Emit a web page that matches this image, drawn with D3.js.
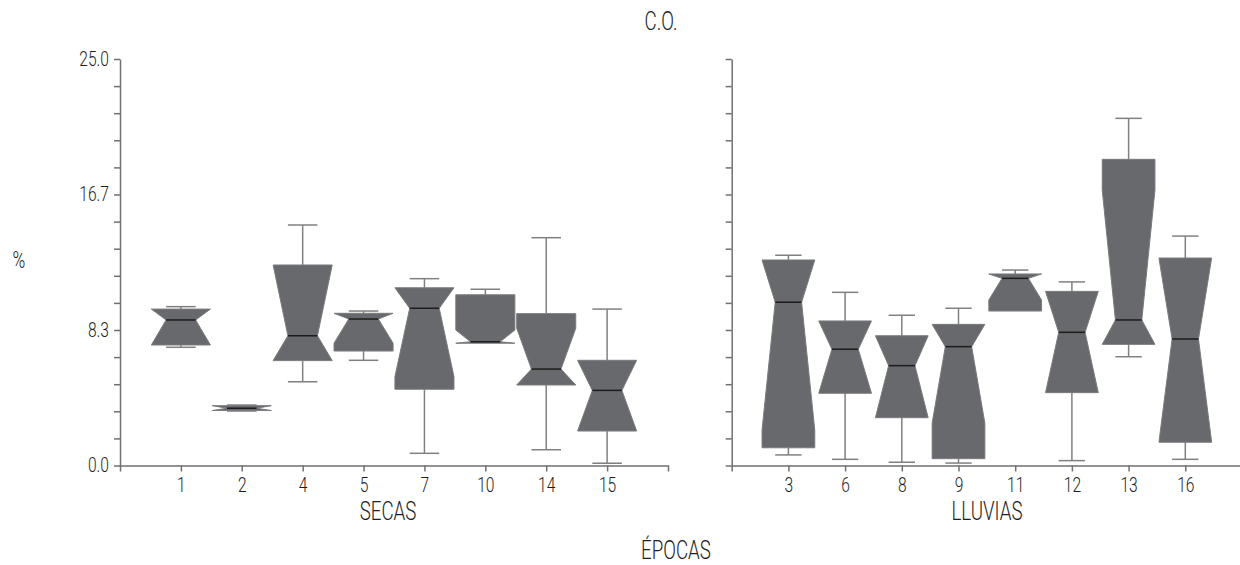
<!DOCTYPE html>
<html>
<head>
<meta charset="utf-8">
<script src="https://cdn.jsdelivr.net/npm/d3@7"></script>
<style>
  body { margin: 0; background: #fff; }
  svg text { font-family: Roboto, "Liberation Sans", sans-serif; font-weight: 300; fill: #1e1e1e; }
  .axis path, .axis line { stroke: #707070; stroke-width: 1.5; }
</style>
</head>
<body>
<svg id="chart" width="1240" height="565"></svg>
<script>
// SECAS
var secasCats    = ["1", "2", "4", "5", "7", "10", "14", "15"];
var secasWLo     = [7.27, 3.35, 5.15, 6.47, 0.75, 7.52, 0.97, 0.14];
var secasQ1      = [7.41, 3.38, 6.45, 7.04, 4.69, 7.52, 4.95, 2.12];
var secasNotchLo = [7.30, 3.20, 5.00, 7.52, 5.46, 6.90, 3.40, 1.50];
var secasMed     = [8.95, 3.52, 7.98, 9.01, 9.67, 7.61, 5.93, 4.62];
var secasNotchHi = [10.5, 3.80, 12.5, 10.5, 13.9, 8.33, 8.44, 7.70];
var secasQ3      = [9.62, 3.68, 12.33, 9.36, 10.93, 10.50, 9.34, 6.47];
var secasWHi     = [9.77, 3.72, 14.79, 9.50, 11.49, 10.84, 14.01, 9.62];

// LLUVIAS
var lluviasCats    = ["3", "6", "8", "9", "11", "12", "13", "16"];
var lluviasWLo     = [0.65, 0.38, 0.20, 0.15, 9.50, 0.30, 6.69, 0.38];
var lluviasQ1      = [1.09, 4.44, 2.94, 0.42, 9.50, 4.48, 7.45, 1.43];
var lluviasNotchLo = [2.18, 4.00, 2.50, 2.60, 10.18, 4.00, 0.96, 1.00];
var lluviasMed     = [10.04, 7.15, 6.14, 7.31, 11.51, 8.19, 8.95, 7.78];
var lluviasNotchHi = [17.9, 10.3, 9.80, 12.0, 12.84, 12.4, 16.94, 14.5];
var lluviasQ3      = [12.64, 8.89, 7.98, 8.68, 11.78, 10.71, 18.83, 12.76];
var lluviasWHi     = [12.93, 10.65, 9.24, 9.67, 12.02, 11.29, 21.35, 14.11];

var yMax = 25;
var yTicks = d3.range(16).map(function(i) { return i * yMax / 15; });

var svg = d3.select("#chart");
var y = d3.scaleLinear().domain([0, yMax]).range([465.5, 59]);

// narrow a text horizontally around its own anchor point (condensed typeface look)
function condense(sel, k) {
    sel.each(function() {
        var t = d3.select(this);
        var tx = +t.attr("x") || 0, ty = +t.attr("y") || 0;
        t.attr("x", 0).attr("y", 0)
         .attr("transform", "translate(" + tx + "," + ty + ") scale(" + k + ",1)");
    });
}

function rows(cats, wLo, q1, nLo, med, nHi, q3, wHi) {
    return cats.map(function(c, i) {
        return {cat: c, wLo: wLo[i], q1: q1[i], med: med[i], q3: q3[i], wHi: wHi[i],
                nLo: Math.max(q1[i], nLo[i]), nHi: Math.min(q3[i], nHi[i])};
    });
}

function label(x, yy, size, txt) {
    svg.append("text").attr("x", x).attr("y", yy)
        .attr("text-anchor", "middle").style("font-size", size + "px").text(txt)
        .call(condense, 0.72);
}

function panel(data, x0, x1, boxFrac, title, titleX, showLabels) {
    var x = d3.scalePoint().domain(data.map(function(d) { return d.cat; }))
        .range([x0, x1]).padding(1);
    var w = x.step() * boxFrac, hw = w / 2, qw = w / 4;

    var yAxis = d3.axisLeft(y).tickValues(yTicks).tickSize(6).tickSizeOuter(0)
        .tickPadding(5)
        .tickFormat(function(d, i) { return (showLabels && i % 5 == 0) ? d3.format(".1f")(d) : ""; });
    svg.append("g").attr("class", "axis")
        .attr("transform", "translate(" + x0 + ",0)")
        .call(yAxis)
        .call(function(g) { g.selectAll("text").style("font-size", "20px").call(condense, 0.78); });

    svg.append("g").attr("class", "axis")
        .attr("transform", "translate(0," + y(0) + ")")
        .call(d3.axisBottom(x).tickSize(6).tickSizeOuter(6).tickPadding(6))
        .call(function(g) { g.selectAll("text").style("font-size", "20px").call(condense, 0.78); });

    var g = svg.append("g");
    var box = g.selectAll(".box").data(data).enter().append("g").attr("class", "box")
        .attr("transform", function(d) { return "translate(" + x(d.cat) + ",0)"; });

    // whiskers
    box.append("line").attr("x1", 0).attr("x2", 0)
        .attr("y1", function(d) { return y(d.q3); }).attr("y2", function(d) { return y(d.wHi); })
        .attr("stroke", "#808080").attr("stroke-width", 1.5);
    box.append("line").attr("x1", 0).attr("x2", 0)
        .attr("y1", function(d) { return y(d.q1); }).attr("y2", function(d) { return y(d.wLo); })
        .attr("stroke", "#808080").attr("stroke-width", 1.5);
    box.filter(function(d) { return d.wHi > d.q3; }).append("line")
        .attr("x1", -qw).attr("x2", qw)
        .attr("y1", function(d) { return y(d.wHi); }).attr("y2", function(d) { return y(d.wHi); })
        .attr("stroke", "#808080").attr("stroke-width", 1.5);
    box.filter(function(d) { return d.wLo < d.q1; }).append("line")
        .attr("x1", -qw).attr("x2", qw)
        .attr("y1", function(d) { return y(d.wLo); }).attr("y2", function(d) { return y(d.wLo); })
        .attr("stroke", "#808080").attr("stroke-width", 1.5);

    // notched box
    box.append("path")
        .attr("d", function(d) {
            var p = [[-hw, y(d.q3)], [-hw, y(d.nHi)], [-qw, y(d.med)], [-hw, y(d.nLo)], [-hw, y(d.q1)],
                     [hw, y(d.q1)], [hw, y(d.nLo)], [qw, y(d.med)], [hw, y(d.nHi)], [hw, y(d.q3)]];
            return d3.line()(p) + "Z";
        })
        .attr("fill", "#68696c").attr("stroke", "#7a7b7e").attr("stroke-width", 1);

    // median
    box.append("line").attr("x1", -qw).attr("x2", qw)
        .attr("y1", function(d) { return y(d.med); }).attr("y2", function(d) { return y(d.med); })
        .attr("stroke", "#1c1c1c").attr("stroke-width", 1.5);

    label(titleX, 520, 26, title);
}

panel(rows(secasCats, secasWLo, secasQ1, secasNotchLo, secasMed, secasNotchHi, secasQ3, secasWHi),
      120, 668, 0.97, "SECAS", 388, true);
panel(rows(lluviasCats, lluviasWLo, lluviasQ1, lluviasNotchLo, lluviasMed, lluviasNotchHi, lluviasQ3, lluviasWHi),
      731.7, 1242, 0.93, "LLUVIAS", 987, false);

label(661, 30, 26, "C.O.");
label(676, 559, 26, "ÉPOCAS");
label(19, 268, 24, "%");
</script>
</body>
</html>
